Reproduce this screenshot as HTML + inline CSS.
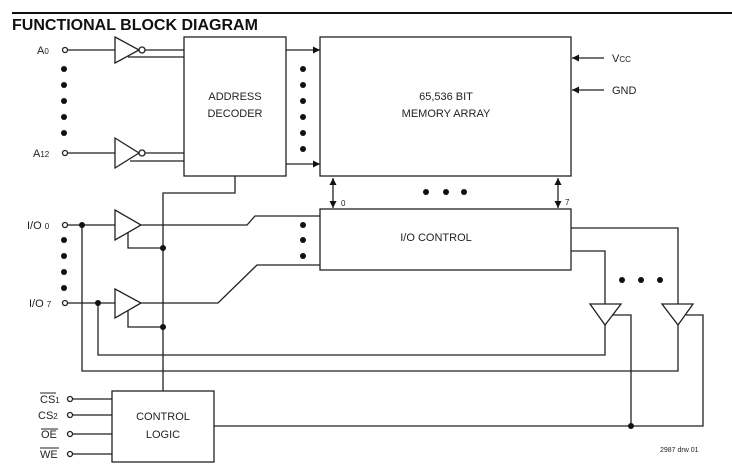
<!DOCTYPE html>
<html><head><meta charset="utf-8"><style>
html,body{margin:0;padding:0;background:#fff;}
svg{display:block;}
text{font-family:"Liberation Sans",Arial,sans-serif;fill:#222;}
</style></head><body>
<svg width="732" height="465" viewBox="0 0 732 465" xmlns="http://www.w3.org/2000/svg">
<defs>
<marker id="ah" viewBox="0 0 10 10" refX="10" refY="5" markerWidth="9" markerHeight="7" markerUnits="userSpaceOnUse" orient="auto-start-reverse"><path d="M0,0 L10,5 L0,10 z" fill="#111"/></marker>
</defs>
<line x1="12" y1="13" x2="732" y2="13" stroke="#111" stroke-width="2"/>
<text x="12" y="30" font-size="16" font-weight="bold" style="fill:#111">FUNCTIONAL BLOCK DIAGRAM</text>
<g stroke="#222" stroke-width="1.3" fill="none">
<!-- boxes -->
<rect x="184" y="37" width="102" height="139" fill="#fff"/>
<rect x="320" y="37" width="251" height="139" fill="#fff"/>
<rect x="320" y="209" width="251" height="61" fill="#fff"/>
<rect x="112" y="391" width="102" height="71" fill="#fff"/>
<!-- A0 -->
<circle cx="65" cy="50" r="2.5" fill="#fff"/>
<line x1="68" y1="50" x2="115" y2="50"/>
<path d="M115,37 L139,50 L115,63 Z" fill="#fff"/>
<circle cx="142" cy="50" r="3" fill="#fff"/>
<line x1="145" y1="50" x2="184" y2="50"/>
<line x1="128" y1="57" x2="184" y2="57"/>
<!-- A12 -->
<circle cx="65" cy="153" r="2.5" fill="#fff"/>
<line x1="68" y1="153" x2="115" y2="153"/>
<path d="M115,138 L139,153 L115,168 Z" fill="#fff"/>
<circle cx="142" cy="153" r="3" fill="#fff"/>
<line x1="145" y1="153" x2="184" y2="153"/>
<line x1="130" y1="161" x2="184" y2="161"/>
<!-- decoder to memory -->
<line x1="286" y1="50" x2="320" y2="50" marker-end="url(#ah)"/>
<line x1="286" y1="164" x2="320" y2="164" marker-end="url(#ah)"/>
<!-- vcc gnd -->
<line x1="604" y1="58" x2="572" y2="58" marker-end="url(#ah)"/>
<line x1="604" y1="90" x2="572" y2="90" marker-end="url(#ah)"/>
<!-- decoder to control -->
<polyline points="235,176 235,193 163,193 163,391"/>
<!-- bidir -->
<line x1="333" y1="178" x2="333" y2="208" marker-start="url(#ah)" marker-end="url(#ah)"/>
<line x1="558" y1="178" x2="558" y2="208" marker-start="url(#ah)" marker-end="url(#ah)"/>
<!-- IO0 -->
<circle cx="65" cy="225" r="2.5" fill="#fff"/>
<line x1="68" y1="225" x2="115" y2="225"/>
<path d="M115,210 L141,225 L115,240 Z" fill="#fff"/>
<polyline points="141,225 247,225 255,216 320,216"/>
<polyline points="128,232 128,248 163,248"/>
<polyline points="82,225 82,371 678,371 678,325"/>
<!-- IO7 -->
<circle cx="65" cy="303" r="2.5" fill="#fff"/>
<line x1="68" y1="303" x2="115" y2="303"/>
<path d="M115,289 L141,303 L115,318 Z" fill="#fff"/>
<polyline points="141,303 218,303 257,265 320,265"/>
<polyline points="128,311 128,327 163,327"/>
<polyline points="98,303 98,355 605,355 605,325"/>
<!-- right buffers -->
<polyline points="571,251 605,251 605,304"/>
<polyline points="571,228 678,228 678,304"/>
<path d="M590,304 L621,304 L605,325 Z" fill="#fff"/>
<path d="M662,304 L693,304 L678,325 Z" fill="#fff"/>
<polyline points="613,315 631,315 631,426"/>
<polyline points="686,315 703,315 703,426 214,426"/>
<!-- control inputs -->
<circle cx="70" cy="399" r="2.5" fill="#fff"/><line x1="73" y1="399" x2="112" y2="399"/>
<circle cx="70" cy="415" r="2.5" fill="#fff"/><line x1="73" y1="415" x2="112" y2="415"/>
<circle cx="70" cy="434" r="2.5" fill="#fff"/><line x1="73" y1="434" x2="112" y2="434"/>
<circle cx="70" cy="454" r="2.5" fill="#fff"/><line x1="73" y1="454" x2="112" y2="454"/>
<!-- overlines -->
<line x1="40" y1="393" x2="56" y2="393" stroke-width="1"/>
<line x1="41" y1="429" x2="58" y2="429" stroke-width="1"/>
<line x1="40" y1="448" x2="59" y2="448" stroke-width="1"/>
</g>
<g fill="#111">
<circle cx="82" cy="225" r="3"/><circle cx="98" cy="303" r="3"/>
<circle cx="163" cy="248" r="3"/><circle cx="163" cy="327" r="3"/>
<circle cx="631" cy="426" r="3"/>
<circle cx="64" cy="69" r="3"/><circle cx="64" cy="85" r="3"/><circle cx="64" cy="101" r="3"/><circle cx="64" cy="117" r="3"/><circle cx="64" cy="133" r="3"/>
<circle cx="303" cy="69" r="3"/><circle cx="303" cy="85" r="3"/><circle cx="303" cy="101" r="3"/><circle cx="303" cy="117" r="3"/><circle cx="303" cy="133" r="3"/><circle cx="303" cy="149" r="3"/>
<circle cx="64" cy="240" r="3"/><circle cx="64" cy="256" r="3"/><circle cx="64" cy="272" r="3"/><circle cx="64" cy="288" r="3"/>
<circle cx="303" cy="225" r="3"/><circle cx="303" cy="240" r="3"/><circle cx="303" cy="256" r="3"/>
<circle cx="426" cy="192" r="3"/><circle cx="446" cy="192" r="3"/><circle cx="464" cy="192" r="3"/>
<circle cx="622" cy="280" r="3"/><circle cx="641" cy="280" r="3"/><circle cx="660" cy="280" r="3"/>
</g>
<g font-size="11">
<text x="37" y="54">A<tspan font-size="8">0</tspan></text>
<text x="33" y="157">A<tspan font-size="8">12</tspan></text>
<text x="27" y="229">I/O <tspan font-size="8">0</tspan></text>
<text x="29" y="307">I/O <tspan font-size="8">7</tspan></text>
<text x="235" y="100" text-anchor="middle">ADDRESS</text>
<text x="235" y="117" text-anchor="middle">DECODER</text>
<text x="446" y="100" text-anchor="middle">65,536 BIT</text>
<text x="446" y="117" text-anchor="middle">MEMORY ARRAY</text>
<text x="436" y="241" text-anchor="middle">I/O CONTROL</text>
<text x="163" y="420" text-anchor="middle">CONTROL</text>
<text x="163" y="438" text-anchor="middle">LOGIC</text>
<text x="612" y="62">V<tspan font-size="8">CC</tspan></text>
<text x="612" y="94">GND</text>
<text x="40" y="403">CS<tspan font-size="8">1</tspan></text>
<text x="38" y="419">CS<tspan font-size="8">2</tspan></text>
<text x="41" y="438">OE</text>
<text x="40" y="458">WE</text>
<text x="341" y="206" font-size="8">0</text>
<text x="565" y="205" font-size="8">7</text>
<text x="660" y="452" font-size="7">2987 drw 01</text>
</g>
</svg>
</body></html>
